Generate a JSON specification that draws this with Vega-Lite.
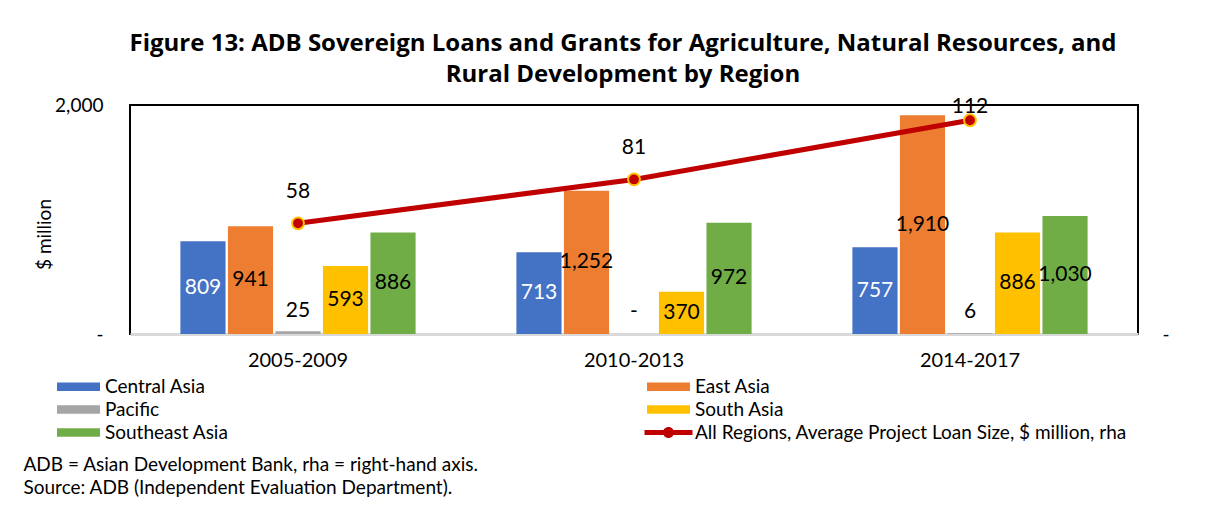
{
  "$schema": "https://vega.github.io/schema/vega-lite/v6.json",
  "width": 1008,
  "height": 229,
  "autosize": "none",
  "padding": {"left": 130, "top": 105, "right": 93, "bottom": 172},
  "background": "white",
  "config": {
    "font": "Lato",
    "view": {"stroke": "black", "strokeWidth": 2}
  },
  "title": {
    "text": ["Figure 13: ADB Sovereign Loans and Grants for Agriculture, Natural Resources, and", "Rural Development by Region"],
    "fontSize": 24,
    "font": "Open Sans",
    "fontWeight": "bold",
    "color": "black",
    "anchor": "middle",
    "lineHeight": 31,
    "dx": -11,
    "dy": -5
  },
  "datasets": {
    "bars": [
      {"period": "2005-2009", "region": "Central Asia", "value": 809, "label": "809"},
      {"period": "2005-2009", "region": "East Asia", "value": 941, "label": "941"},
      {"period": "2005-2009", "region": "Pacific", "value": 25, "label": "25"},
      {"period": "2005-2009", "region": "South Asia", "value": 593, "label": "593"},
      {"period": "2005-2009", "region": "Southeast Asia", "value": 886, "label": "886"},
      {"period": "2010-2013", "region": "Central Asia", "value": 713, "label": "713"},
      {"period": "2010-2013", "region": "East Asia", "value": 1252, "label": "1,252"},
      {"period": "2010-2013", "region": "Pacific", "value": 0, "label": "-"},
      {"period": "2010-2013", "region": "South Asia", "value": 370, "label": "370"},
      {"period": "2010-2013", "region": "Southeast Asia", "value": 972, "label": "972"},
      {"period": "2014-2017", "region": "Central Asia", "value": 757, "label": "757"},
      {"period": "2014-2017", "region": "East Asia", "value": 1910, "label": "1,910"},
      {"period": "2014-2017", "region": "Pacific", "value": 6, "label": "6"},
      {"period": "2014-2017", "region": "South Asia", "value": 886, "label": "886"},
      {"period": "2014-2017", "region": "Southeast Asia", "value": 1030, "label": "1,030"}
    ],
    "line": [
      {"period": "2005-2009", "series": "All Regions, Average Project Loan Size, $ million, rha", "avg": 58},
      {"period": "2010-2013", "series": "All Regions, Average Project Loan Size, $ million, rha", "avg": 81},
      {"period": "2014-2017", "series": "All Regions, Average Project Loan Size, $ million, rha", "avg": 112}
    ]
  },
  "encoding": {
    "x": {
      "field": "period",
      "type": "nominal",
      "scale": {"paddingInner": 0.3, "paddingOuter": 0.15},
      "axis": {
        "title": ["ADB = Asian Development Bank, rha = right-hand axis.", "Source: ADB (Independent Evaluation Department)."],
        "titleAnchor": "start",
        "titleAlign": "left",
        "titleBaseline": "top",
        "titleX": -107,
        "titleY": 121,
        "titleFontSize": 19,
        "titleFontWeight": "normal",
        "titleColor": "black",
        "titleLineHeight": 23,
        "labelFontSize": 20,
        "labelColor": "black",
        "labelAngle": 0,
        "labelPadding": 16,
        "ticks": false,
        "domainColor": "#D9D9D9",
        "domainWidth": 3
      }
    }
  },
  "layer": [
    {
      "data": {"name": "bars"},
      "mark": {"type": "bar"},
      "encoding": {
        "xOffset": {"field": "region", "type": "nominal", "scale": {"paddingInner": 0.05, "paddingOuter": 0}},
        "y": {
          "field": "value",
          "type": "quantitative",
          "scale": {"domain": [0, 2000], "nice": false},
          "axis": {
            "orient": "left",
            "values": [0, 2000],
            "labelExpr": "datum.value == 0 ? '-' : format(datum.value, ',')",
            "labelFontSize": 19,
            "labelColor": "black",
            "labelPadding": 27,
            "ticks": false,
            "domain": false,
            "grid": false,
            "title": "$ million",
            "titleFontSize": 19,
            "titleFontWeight": "normal",
            "titleColor": "black",
            "titleBaseline": "middle",
            "titleX": -86,
            "titleY": 129
          }
        },
        "color": {
          "field": "region",
          "type": "nominal",
          "scale": {
            "domain": ["Central Asia", "East Asia", "Pacific", "South Asia", "Southeast Asia", "All Regions, Average Project Loan Size, $ million, rha"],
            "range": ["#4472C4", "#ED7D31", "#A5A5A5", "#FFC000", "#70AD47", "#C00000"]
          },
          "legend": {
            "orient": "none",
            "direction": "horizontal",
            "legendX": -61,
            "legendY": 272,
            "columns": 2,
            "columnPadding": 415,
            "rowPadding": 3,
            "padding": 0,
            "title": null,
            "labelFontSize": 19,
            "labelColor": "black",
            "labelLimit": 700,
            "labelOffset": 17,
            "symbolSize": 100,
            "symbolStrokeWidth": 0,
            "encode": {
              "symbols": {
                "update": {
                  "shape": {"signal": "datum.value == 'All Regions, Average Project Loan Size, $ million, rha' ? 'M-4.8,-0.5H4.8V0.5H-4.8Z M1.1,0 A1.1,1.1 0 1,1 -1.1,0 A1.1,1.1 0 1,1 1.1,0Z' : 'M-4.3,-0.85H4.3V0.85H-4.3Z'"},
                  "fill": {"signal": "scale('color', datum.value)"},
                  "opacity": {"value": 1},
                  "fillOpacity": {"value": 1}
                }
              }
            }
          }
        }
      }
    },
    {
      "data": {"name": "bars"},
      "transform": [{"filter": "datum.region != 'Pacific'"}],
      "mark": {"type": "text", "fontSize": 21, "baseline": "middle"},
      "encoding": {
        "xOffset": {"field": "region", "type": "nominal"},
        "y": {"field": "value", "type": "quantitative", "scale": {"domain": [0, 4000], "nice": false}, "axis": null},
        "text": {"field": "label"},
        "color": {"condition": {"test": "datum.region == 'Central Asia'", "value": "white"}, "value": "black"}
      }
    },
    {
      "data": {"name": "bars"},
      "transform": [{"filter": "datum.region == 'Pacific'"}],
      "mark": {"type": "text", "fontSize": 21, "baseline": "middle", "dy": -22, "color": "black"},
      "encoding": {
        "xOffset": {"field": "region", "type": "nominal"},
        "y": {"field": "value", "type": "quantitative", "scale": {"domain": [0, 4000], "nice": false}, "axis": null},
        "text": {"field": "label"}
      }
    },
    {
      "data": {"name": "line"},
      "mark": {"type": "line", "strokeWidth": 5},
      "encoding": {
        "y": {
          "field": "avg",
          "type": "quantitative",
          "scale": {"domain": [0, 120], "nice": false},
          "axis": {
            "orient": "right",
            "values": [0],
            "labelExpr": "'-'",
            "labelFontSize": 19,
            "labelColor": "black",
            "labelPadding": 24,
            "ticks": false,
            "domain": false,
            "grid": false,
            "title": null
          }
        },
        "color": {"field": "series", "type": "nominal"}
      }
    },
    {
      "data": {"name": "line"},
      "mark": {"type": "point", "filled": true, "size": 140, "fill": "#C00000", "stroke": "#FFC000", "strokeWidth": 2, "opacity": 1},
      "encoding": {
        "y": {"field": "avg", "type": "quantitative", "scale": {"domain": [0, 120], "nice": false}, "axis": null}
      }
    },
    {
      "data": {"name": "line"},
      "transform": [{"filter": "datum.avg < 100"}],
      "mark": {"type": "text", "fontSize": 21, "baseline": "middle", "dy": -31, "color": "black"},
      "encoding": {
        "y": {"field": "avg", "type": "quantitative", "scale": {"domain": [0, 120], "nice": false}, "axis": null},
        "text": {"field": "avg", "type": "quantitative"}
      }
    },
    {
      "data": {"name": "line"},
      "transform": [{"filter": "datum.avg >= 100"}],
      "mark": {"type": "text", "fontSize": 21, "baseline": "middle", "dy": -13, "color": "black"},
      "encoding": {
        "y": {"field": "avg", "type": "quantitative", "scale": {"domain": [0, 120], "nice": false}, "axis": null},
        "text": {"field": "avg", "type": "quantitative"}
      }
    }
  ],
  "resolve": {"scale": {"y": "independent"}}
}
